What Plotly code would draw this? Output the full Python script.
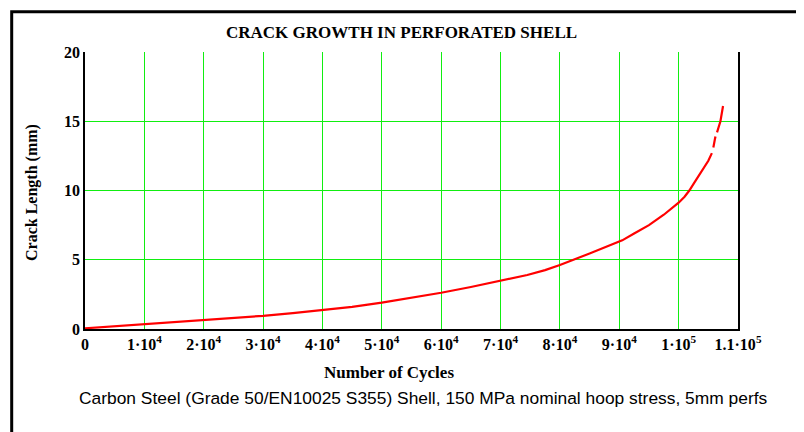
import plotly.graph_objects as go

# Data (cycles, crack length in mm); None marks gaps in the trace
cycles = [0, 5000, 10000, 15000, 20000, 25000, 30000, 35000, 40000, 45000, 50000,
          55000, 60000, 65000, 70000, 74500, 77500, 80000, 85000, 90500, 92500,
          95000, 97500, 100000, 101000, 101800, 102700, 103500, 104300, 105000, 105600, None,
          105850, 106200, None, 106470, 107040, 107480]
crack_mm = [0.05, 0.2, 0.34, 0.47, 0.6, 0.77, 0.95, 1.15, 1.36, 1.6, 1.9,
            2.25, 2.62, 3.03, 3.47, 3.9, 4.25, 4.62, 5.45, 6.4, 6.9,
            7.5, 8.25, 9.12, 9.55, 10.0, 10.6, 11.15, 11.7, 12.15, 12.7, None,
            13.1, 13.9, None, 14.2, 15.0, 16.1]

x_tickvals = [0, 10000, 20000, 30000, 40000, 50000, 60000, 70000, 80000, 90000, 100000, 110000]
x_ticktext = ["0", "1·10<sup>4</sup>", "2·10<sup>4</sup>", "3·10<sup>4</sup>", "4·10<sup>4</sup>",
              "5·10<sup>4</sup>", "6·10<sup>4</sup>", "7·10<sup>4</sup>", "8·10<sup>4</sup>",
              "9·10<sup>4</sup>", "1·10<sup>5</sup>", "1.1·10<sup>5</sup>"]
y_tickvals = [0, 5, 10, 15, 20]

title_text = "CRACK GROWTH IN PERFORATED SHELL"
x_title = "Number of Cycles"
y_title = "Crack Length (mm)"
subtitle = "Carbon Steel (Grade 50/EN10025 S355) Shell, 150 MPa nominal hoop stress, 5mm perfs"

serif = "Liberation Serif, Times New Roman, serif"
sans = "Liberation Sans, Arial, sans-serif"

fig = go.Figure()
fig.add_trace(go.Scatter(x=cycles, y=crack_mm, mode="lines", connectgaps=False,
                         line=dict(color="#ff0000", width=2.2), hoverinfo="skip"))

OFF = 8  # page body margin offset
W, H = 804 - OFF, 432 - OFF
L, R, T, B = 85 - OFF, 66, 52 - OFF, 103
pw, ph = W - L - R, H - T - B

def px(xp):
    return (xp - OFF - L) / pw

def py(yp):
    return (H - B - (yp - OFF)) / ph

fig.update_layout(
    width=W, height=H,
    margin=dict(l=L, r=R, t=T, b=B),
    paper_bgcolor="white", plot_bgcolor="white",
    showlegend=False,
    xaxis=dict(range=[0, 110000], tickvals=x_tickvals, ticktext=x_ticktext,
               showgrid=True, gridcolor="#11ee11", gridwidth=1,
               showline=True, linecolor="black", linewidth=1.5, mirror=False,
               ticks="",
               tickfont=dict(family=serif, size=16, color="black", weight="bold"),
               zeroline=False, fixedrange=True),
    yaxis=dict(range=[0, 20], tickvals=y_tickvals,
               showgrid=True, gridcolor="#11ee11", gridwidth=1,
               showline=True, linecolor="black", linewidth=1.5, mirror=True,
               ticks="",
               tickfont=dict(family=serif, size=16, color="black", weight="bold"),
               zeroline=False, fixedrange=True),
    shapes=[dict(type="rect", xref="paper", yref="paper",
                 x0=px(11.7), y0=-0.6, x1=1.3, y1=py(11.7),
                 line=dict(color="black", width=3), fillcolor="rgba(0,0,0,0)", layer="above")],
    annotations=[
        dict(text="<b>" + title_text + "</b>", xref="paper", yref="paper",
             x=px(401), y=py(33), xanchor="center", yanchor="middle", showarrow=False,
             font=dict(family=serif, size=17, color="black")),
        dict(text="<b>" + x_title + "</b>", xref="paper", yref="paper",
             x=px(388.5), y=py(372), xanchor="center", yanchor="middle", showarrow=False,
             font=dict(family=serif, size=17, color="black")),
        dict(text="<b>" + y_title + "</b>", xref="paper", yref="paper",
             x=px(32), y=py(193), xanchor="center", yanchor="middle", showarrow=False,
             textangle=-90, font=dict(family=serif, size=16, color="black")),
        dict(text=subtitle, xref="paper", yref="paper",
             x=px(423), y=py(398), xanchor="center", yanchor="middle", showarrow=False,
             font=dict(family=sans, size=17.4, color="black")),
    ],
)

fig.write_html("out.html")
